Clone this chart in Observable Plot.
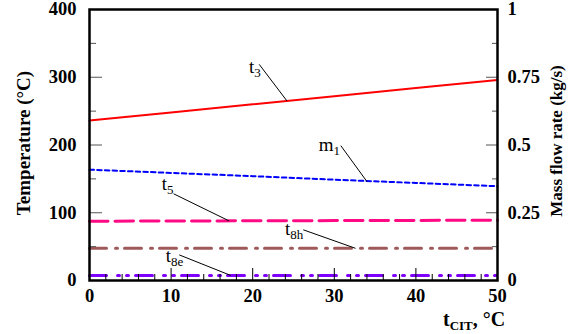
<!DOCTYPE html>
<html><head><meta charset="utf-8">
<script src="https://cdn.jsdelivr.net/npm/d3@7"></script>
<script src="https://cdn.jsdelivr.net/npm/@observablehq/plot@0.6"></script>
<style>body{margin:0;background:#fff}</style>
</head><body><div id="chart"></div>
<script>
// ---- data ----
const tCIT = [0, 10, 20, 30, 40, 50];
const t3  = [236, 248, 260, 272, 284, 296];
const m1  = [0.409, 0.397, 0.385, 0.372, 0.360, 0.348]; // kg/s (right axis)
const t5  = [87.5, 87.8, 88.1, 88.4, 88.7, 89.0];
const t8h = [47.5, 47.5, 47.5, 47.5, 47.5, 47.5];
const t8e = [7.5, 7.5, 7.5, 7.5, 7.5, 7.5];

const tempTicks = [0, 100, 200, 300, 400];
const tempMinor = [50, 150, 250, 350];
const flowTicks = [0, 0.25, 0.5, 0.75, 1];
const flowMinor = [0.125, 0.375, 0.625, 0.875];
const xTicks = [0, 10, 20, 30, 40, 50];
const xMinor = [2, 4, 6, 8, 12, 14, 16, 18, 22, 24, 26, 28, 32, 34, 36, 38, 42, 44, 46, 48];
const tempMax = 400, flowMax = 1;
const toTemp = m => m / flowMax * tempMax;

// annotation labels
const labelMain = ["t", "m", "t", "t", "t"];
const labelSub  = ["3", "1", "5", "8h", "8e"];
const labelX    = [20.2, 29.9, 9.5, 24.6, 10.0];
const labelY    = [315, 200.7, 143, 76.3, 36.3];
// leader lines
const leadX1 = [20.8, 30.8, 10.3, 26.2, 11.0];
const leadY1 = [319, 199, 128, 74.8, 37.8];
const leadX2 = [24.2, 34.0, 17.1, 32.6, 17.3];
const leadY2 = [265, 146, 88, 47.5, 7.5];

// ---- build ----
const series = [
  {name: "t3",  vals: t3,             stroke: "#ff0000", w: 2,   dash: null},
  {name: "m1",  vals: m1.map(toTemp), stroke: "#0000ff", w: 2,   dash: "4.5,3.2"},
  {name: "t5",  vals: t5,             stroke: "#ff0a84", w: 3,   dash: "18.5,7"},
  {name: "t8h", vals: t8h,            stroke: "#9e5a5a", w: 3,   dash: "17,9,2,7"},
  {name: "t8e", vals: t8e,            stroke: "#8000ff", w: 3,   dash: "17,11,2,7,2,7"}
];
const lineMarks = series.map(s => Plot.line(tCIT.map((x, i) => ({x, y: s.vals[i]})), {
  x: "x", y: "y", stroke: s.stroke, strokeWidth: s.w, strokeDasharray: s.dash
}));
const idx = labelMain.map((_, i) => i);
const serif = "Liberation Serif, Times New Roman, serif";

const chart = Plot.plot({
  width: 570, height: 334,
  marginLeft: 89, marginRight: 73, marginTop: 9, marginBottom: 54,
  style: {fontFamily: serif, fontSize: "18px", background: "white", color: "black"},
  x: {domain: [0, 50], axis: null},
  y: {domain: [0, tempMax], axis: null},
  marks: [
    ...lineMarks,
    Plot.link(idx, {x1: i => leadX1[i], y1: i => leadY1[i], x2: i => leadX2[i], y2: i => leadY2[i], stroke: "black", strokeWidth: 1}),
    Plot.text(idx, {x: i => labelX[i], y: i => labelY[i], text: i => labelMain[i], textAnchor: "end", fontSize: 19, fontFamily: serif}),
    Plot.text(idx, {x: i => labelX[i], y: i => labelY[i], text: i => labelSub[i], textAnchor: "start", fontSize: 13, dy: 6, fontFamily: serif}),
    // left axis
    Plot.axisY(tempTicks, {anchor: "left", tickSize: 0, tickPadding: 13, fontWeight: "bold", fontSize: 18.5, label: null}),
    Plot.axisY(tempTicks, {anchor: "left", tickSize: -13, fill: "none", stroke: "#555", label: null}),
    Plot.axisY(tempMinor, {anchor: "left", tickSize: -7, fill: "none", stroke: "#555", label: null}),
    // right axis
    Plot.axisY(flowTicks.map(toTemp), {anchor: "right", tickSize: 0, tickPadding: 10, fontWeight: "bold", fontSize: 18.5, label: null,
      tickFormat: d => String(d / tempMax * flowMax)}),
    Plot.axisY(flowTicks.map(toTemp), {anchor: "right", tickSize: -12, fill: "none", stroke: "#555", label: null}),
    Plot.axisY(flowMinor.map(toTemp), {anchor: "right", tickSize: -6, fill: "none", stroke: "#555", label: null}),
    // bottom axis
    Plot.axisX(xTicks, {anchor: "bottom", tickSize: 0, tickPadding: 8, fontWeight: "bold", fontSize: 18.5, label: null}),
    Plot.axisX(xTicks, {anchor: "bottom", tickSize: -12, fill: "none", stroke: "black", label: null}),
    Plot.axisX(xMinor, {anchor: "bottom", tickSize: -6, fill: "none", stroke: "black", label: null}),
    Plot.frame({stroke: "black", strokeWidth: 2.5})
  ]
});
document.getElementById("chart").appendChild(chart);

// axis titles
const svg = d3.select(chart);
svg.append("text").attr("transform", "translate(23,143) rotate(-90)")
  .attr("text-anchor", "middle").attr("dy", "0.35em")
  .attr("font-size", 19).attr("font-weight", "bold").attr("font-family", serif)
  .text("Temperature (°C)");
svg.append("text").attr("transform", "translate(556,141) rotate(-90)")
  .attr("text-anchor", "middle").attr("dy", "0.35em")
  .attr("font-size", 17).attr("font-weight", "bold").attr("font-family", serif)
  .text("Mass flow rate (kg/s)");
const xt = svg.append("text").attr("x", 443).attr("y", 326).attr("text-anchor", "start")
  .attr("font-size", 20).attr("font-weight", "bold").attr("font-family", serif);
xt.append("tspan").text("t");
xt.append("tspan").attr("font-size", 13).attr("dy", 4).text("CIT");
xt.append("tspan").attr("dy", -4).text(", °C");
</script>
</body></html>
